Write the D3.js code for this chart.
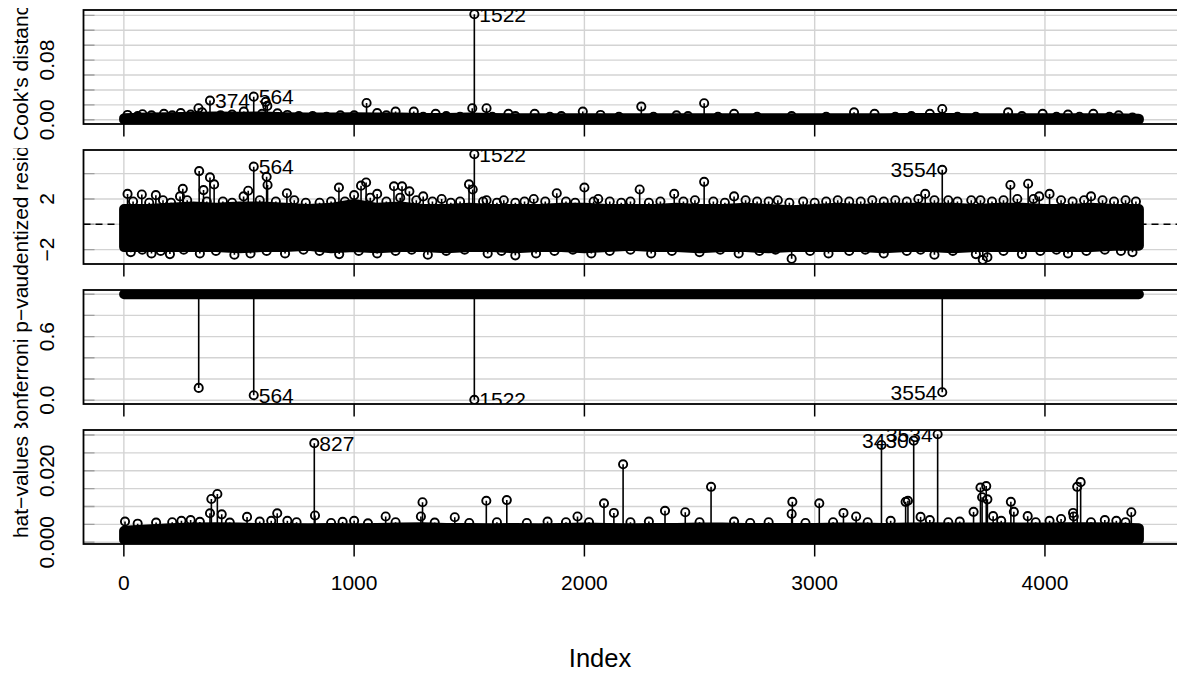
<!DOCTYPE html>
<html lang="en">
<head>
<meta charset="UTF-8">
<title>Influence Index Plot</title>
<script src="https://d3js.org/d3.v7.min.js"></script>
<style>
  body { margin: 0; background: #fff; overflow: hidden; }
  text { font-family: 'Liberation Sans', Arial, sans-serif; fill: #000; }
</style>
</head>
<body>
<script>
// observation index bins used for the dense band of points
const bins = [1, 100, 200, 300, 400, 500, 600, 700, 800, 900, 1000, 1100, 1200, 1300, 1400, 1500,
  1600, 1700, 1800, 1900, 2000, 2100, 2200, 2300, 2400, 2500, 2600, 2700, 2800, 2900, 3000,
  3100, 3200, 3300, 3400, 3500, 3600, 3700, 3800, 3900, 4000, 4100, 4200, 4300, 4408];
const xTicks = [0, 1000, 2000, 3000, 4000];

// Cook's distance
const cookMin = 0;
const cookHi = [0.002, 0.003, 0.0035, 0.004, 0.0045, 0.004, 0.0045, 0.0035, 0.003, 0.003, 0.0035, 0.003,
  0.003, 0.0025, 0.0025, 0.003, 0.0025, 0.002, 0.002, 0.002, 0.002, 0.002, 0.002, 0.002, 0.002, 0.002,
  0.002, 0.002, 0.002, 0.002, 0.002, 0.002, 0.002, 0.002, 0.0025, 0.0025, 0.0025, 0.002, 0.002, 0.002,
  0.002, 0.002, 0.002, 0.002, 0.0015];
const cookPts = [[16, 0.0065], [60, 0.005], [81, 0.0074], [120, 0.006], [174, 0.008], [210, 0.006],
  [247, 0.009], [290, 0.007], [324, 0.0155], [340, 0.01], [374, 0.0257], [420, 0.006], [470, 0.007],
  [521, 0.011], [564, 0.031], [600, 0.008], [616, 0.024], [623, 0.0186], [667, 0.0087], [710, 0.0065],
  [760, 0.005], [820, 0.005], [880, 0.004], [940, 0.006], [1000, 0.006], [1054, 0.0225], [1100, 0.009],
  [1140, 0.006], [1180, 0.011], [1259, 0.011], [1300, 0.004], [1354, 0.008], [1400, 0.005], [1460, 0.004],
  [1513, 0.0155], [1522, 0.1415], [1575, 0.0155], [1600, 0.004], [1670, 0.008], [1700, 0.005],
  [1784, 0.008], [1850, 0.004], [1900, 0.005], [1993, 0.011], [2070, 0.0065], [2150, 0.004],
  [2247, 0.0177], [2300, 0.004], [2400, 0.006], [2450, 0.005], [2520, 0.0222], [2580, 0.004],
  [2650, 0.008], [2750, 0.004], [2900, 0.005], [3050, 0.004], [3171, 0.01], [3260, 0.008],
  [3350, 0.004], [3420, 0.005], [3500, 0.008], [3554, 0.0145], [3620, 0.004], [3700, 0.004],
  [3840, 0.01], [3900, 0.005], [3990, 0.008], [4050, 0.004], [4100, 0.007], [4150, 0.004],
  [4210, 0.008], [4280, 0.004], [4320, 0.006], [4380, 0.003]];
const cookIds = [374, 564, 1522];

// Studentized residuals
const residHi = [1.2, 1.2, 1.3, 1.4, 1.3, 1.4, 1.4, 1.3, 1.2, 1.3, 1.6, 1.3, 1.4, 1.2, 1.2, 1.3, 1.2, 1.2,
  1.2, 1.3, 1.3, 1.2, 1.2, 1.2, 1.3, 1.2, 1.2, 1.3, 1.2, 1.1, 1.2, 1.3, 1.2, 1.3, 1.3, 1.3, 1.3, 1.2,
  1.3, 1.3, 1.2, 1.2, 1.3, 1.2, 1.2];
const residLo = [-1.8, -1.8, -1.8, -1.8, -1.8, -1.9, -1.8, -1.8, -1.7, -1.9, -1.8, -1.9, -1.8, -1.8, -1.9,
  -1.8, -1.8, -1.9, -1.8, -1.8, -1.9, -1.8, -1.7, -1.8, -1.8, -1.9, -1.8, -1.8, -1.9, -1.8, -1.8, -1.8,
  -1.8, -1.9, -1.8, -1.8, -1.9, -1.8, -1.8, -1.8, -1.8, -1.8, -1.8, -1.7, -1.7];
const residPts = [[16, 2.4], [40, 1.8], [78, 2.35], [110, 1.7], [139, 2.3], [170, 1.9], [205, 1.7],
  [244, 2.2], [256, 2.8], [275, 1.9], [327, 4.2], [346, 2.7], [360, 1.8], [374, 3.7], [392, 3.15],
  [430, 1.8], [470, 1.7], [520, 2.2], [540, 2.65], [564, 4.55], [590, 1.9], [620, 3.75], [624, 3.1],
  [660, 1.8], [708, 2.45], [740, 1.9], [790, 1.7], [850, 1.7], [900, 1.8], [934, 2.9], [960, 1.8],
  [1000, 2.3], [1030, 3.05], [1052, 3.3], [1070, 2.1], [1100, 2.4], [1140, 1.8], [1173, 3.0],
  [1200, 2.1], [1208, 3.0], [1240, 2.6], [1270, 1.9], [1300, 2.2], [1340, 1.8], [1380, 2.0],
  [1420, 1.7], [1460, 1.8], [1499, 3.15], [1515, 2.75], [1522, 5.53], [1560, 1.8], [1575, 1.9],
  [1620, 1.7], [1650, 1.9], [1700, 1.7], [1740, 1.8], [1780, 2.0], [1830, 1.8], [1880, 2.45],
  [1920, 1.8], [1960, 1.7], [2000, 2.9], [2040, 1.8], [2060, 2.0], [2110, 1.8], [2160, 1.7],
  [2200, 1.8], [2240, 2.75], [2280, 1.7], [2330, 1.8], [2390, 2.4], [2430, 1.8], [2480, 1.9],
  [2520, 3.35], [2560, 1.8], [2610, 1.7], [2650, 2.2], [2700, 1.9], [2750, 1.8], [2800, 1.8],
  [2840, 1.9], [2890, 1.7], [2950, 1.8], [3000, 1.7], [3050, 1.8], [3100, 1.9], [3150, 1.8],
  [3200, 1.8], [3250, 1.9], [3300, 1.8], [3350, 1.9], [3400, 1.8], [3450, 2.0], [3480, 2.4],
  [3520, 1.9], [3554, 4.3], [3580, 1.9], [3620, 1.8], [3680, 1.9], [3720, 1.9], [3770, 1.8],
  [3820, 1.9], [3850, 3.1], [3880, 2.0], [3927, 3.2], [3950, 2.0], [3975, 2.2], [4020, 2.4],
  [4070, 1.9], [4120, 1.8], [4170, 1.9], [4200, 2.2], [4250, 1.9], [4300, 1.8], [4350, 1.9],
  [4395, 1.8],
  [30, -2.2], [80, -2.0], [120, -2.3], [160, -2.1], [200, -2.35], [260, -2.0], [330, -2.3],
  [400, -2.1], [480, -2.4], [550, -2.3], [620, -2.1], [700, -2.3], [780, -2.0], [850, -2.1],
  [935, -2.35], [1020, -2.1], [1100, -2.3], [1180, -2.1], [1250, -2.0], [1320, -2.4], [1400, -2.1],
  [1480, -2.0], [1580, -2.3], [1640, -2.1], [1700, -2.45], [1790, -2.3], [1870, -2.1], [1950, -2.0],
  [2030, -2.3], [2110, -2.1], [2200, -2.0], [2290, -2.3], [2380, -2.1], [2500, -2.2], [2590, -2.0],
  [2670, -2.3], [2760, -2.1], [2830, -2.0], [2900, -2.72], [2980, -2.1], [3060, -2.3], [3150, -2.1],
  [3220, -2.0], [3300, -2.3], [3400, -2.1], [3460, -2.0], [3520, -2.4], [3600, -2.1], [3700, -2.35],
  [3730, -2.8], [3750, -2.6], [3820, -2.1], [3900, -2.35], [3980, -2.1], [4050, -2.0], [4100, -2.3],
  [4180, -2.1], [4260, -2.0], [4330, -2.1], [4380, -2.2]];
const residIds = [564, 1522, 3554];

// Bonferroni p-values (all others are 1)
const bonfDefault = 1;
const bonfPts = [[325, 0.116], [564, 0.047], [1522, 0.004], [3554, 0.075]];
const bonfIds = [564, 1522, 3554];

// hat-values
const hatMin = 0.0007;
const hatHi = [0.0032, 0.0036, 0.0039, 0.0041, 0.0042, 0.0041, 0.0040, 0.0040, 0.0039, 0.0040, 0.0039,
  0.0040, 0.0041, 0.0042, 0.0040, 0.0040, 0.0039, 0.0040, 0.0039, 0.0040, 0.0041, 0.0040, 0.0039, 0.0040,
  0.0040, 0.0041, 0.0041, 0.0040, 0.0040, 0.0040, 0.0040, 0.0041, 0.0041, 0.0040, 0.0041, 0.0042, 0.0041,
  0.0041, 0.0042, 0.0041, 0.0041, 0.0042, 0.0042, 0.0041, 0.0039];
const hatPts = [[5, 0.0058], [60, 0.0052], [140, 0.0055], [210, 0.0056], [250, 0.006], [290, 0.0062],
  [330, 0.0057], [374, 0.0081], [380, 0.0121], [406, 0.0135], [425, 0.0078], [460, 0.0055], [535, 0.0071],
  [590, 0.0058], [640, 0.006], [666, 0.0081], [710, 0.006], [750, 0.0056], [827, 0.0277], [830, 0.0075],
  [900, 0.0054], [950, 0.0057], [1000, 0.006], [1060, 0.0053], [1137, 0.0072], [1180, 0.0056],
  [1290, 0.0072], [1297, 0.0112], [1350, 0.0055], [1437, 0.007], [1500, 0.0054], [1574, 0.0116],
  [1620, 0.0056], [1663, 0.0118], [1750, 0.0054], [1840, 0.0058], [1920, 0.0056], [1970, 0.0072],
  [2020, 0.0056], [2085, 0.0109], [2128, 0.0082], [2168, 0.0218], [2200, 0.0056], [2280, 0.0058],
  [2350, 0.0088], [2438, 0.0084], [2500, 0.0056], [2550, 0.0155], [2650, 0.0058], [2720, 0.0054],
  [2800, 0.0056], [2900, 0.0079], [2903, 0.0113], [2960, 0.0054], [3020, 0.0109], [3080, 0.0056],
  [3125, 0.0082], [3180, 0.0072], [3230, 0.0056], [3290, 0.0272], [3330, 0.006], [3395, 0.0113],
  [3405, 0.0116], [3430, 0.0284], [3460, 0.0071], [3500, 0.0062], [3534, 0.0302], [3580, 0.0056],
  [3630, 0.0058], [3690, 0.0085], [3720, 0.0153], [3727, 0.0126], [3745, 0.0157], [3750, 0.012],
  [3775, 0.0073], [3810, 0.006], [3852, 0.0113], [3865, 0.0085], [3925, 0.0073], [3960, 0.0056],
  [4020, 0.006], [4070, 0.0065], [4122, 0.0082], [4125, 0.0072], [4140, 0.0155], [4155, 0.0168],
  [4200, 0.0056], [4260, 0.0062], [4310, 0.006], [4350, 0.0056], [4375, 0.0084]];
const hatIds = [827, 3430, 3534];

const W = 1177, H = 675;
const plotLeft = 83.5, plotRight = 1179.5, panelH = 114;
const panelTops = [10, 150, 290, 430];
// each panel's figure region, which clips its y title
const figBands = [[8, 148], [148, 288], [288, 428], [428, 568]];
const fs = 21;

const svg = d3.select("body").append("svg").attr("width", W).attr("height", H);

function pad4([a, b]) { const d = (b - a) * 0.04; return [a - d, b + d]; }

const x = d3.scaleLinear().domain(pad4(d3.extent(bins))).range([plotLeft, plotRight]);
const xMid = x.invert(600);

const panels = [
  { title: "Cook's distance", hi: cookHi, lo: bins.map(() => cookMin), pts: cookPts, ids: cookIds,
    ticks: [0, 0.02, 0.04, 0.06, 0.08, 0.10, 0.12, 0.14], labelled: [0, 0.08], fmt: d3.format(".2f"), base: 0 },
  { title: "Studentized residuals", hi: residHi, lo: residLo, pts: residPts, ids: residIds,
    ticks: [-2, 0, 2, 4], labelled: [-2, 2], fmt: d3.format("d"), base: 0, dashed: true },
  { title: "Bonferroni p\u2212value", hi: bins.map(() => bonfDefault), lo: bins.map(() => bonfDefault),
    pts: bonfPts, ids: bonfIds, ticks: [0, 0.2, 0.4, 0.6, 0.8, 1.0], labelled: [0, 0.6],
    fmt: d3.format(".1f"), base: 1 },
  { title: "hat\u2212values", hi: hatHi, lo: bins.map(() => hatMin), pts: hatPts, ids: hatIds,
    ticks: [0, 0.005, 0.01, 0.015, 0.02, 0.025, 0.03], labelled: [0, 0.02], fmt: d3.format(".3f"), base: 0 }
];

panels.forEach((p, i) => {
  const top = panelTops[i], bottom = top + panelH;
  const all = p.hi.concat(p.lo, p.pts.map(d => d[1]));
  const y = d3.scaleLinear().domain(pad4(d3.extent(all))).range([bottom, top]);

  svg.append("clipPath").attr("id", "clip" + i)
    .append("rect").attr("x", plotLeft).attr("y", top)
    .attr("width", plotRight - plotLeft).attr("height", panelH);
  svg.append("clipPath").attr("id", "fig" + i)
    .append("rect").attr("x", 0).attr("y", figBands[i][0])
    .attr("width", 80).attr("height", figBands[i][1] - figBands[i][0]);

  const g = svg.append("g").attr("clip-path", `url(#clip${i})`);

  // grid
  g.selectAll(".vg").data(xTicks).join("line")
    .attr("x1", d => x(d)).attr("x2", d => x(d)).attr("y1", top).attr("y2", bottom)
    .attr("stroke", "#d3d3d3").attr("stroke-width", 1.4);
  g.selectAll(".hg").data(p.ticks).join("line")
    .attr("x1", plotLeft).attr("x2", plotRight).attr("y1", d => y(d)).attr("y2", d => y(d))
    .attr("stroke", "#d3d3d3").attr("stroke-width", 1.4);
  g.selectAll(".yt").data(p.ticks).join("line")
    .attr("x1", plotLeft).attr("x2", plotLeft + 11).attr("y1", d => y(d)).attr("y2", d => y(d))
    .attr("stroke", "#a0a0a0").attr("stroke-width", 1.4);

  if (p.dashed) {
    g.append("line").attr("x1", plotLeft).attr("x2", plotRight)
      .attr("y1", y(0)).attr("y2", y(0))
      .attr("stroke", "#000").attr("stroke-width", 1.4).attr("stroke-dasharray", "7,5");
  }

  // dense band of overlapping points
  const band = d3.area()
    .x((d, j) => x(bins[j]))
    .y0((d, j) => y(p.lo[j]))
    .y1((d, j) => y(p.hi[j]));
  g.append("path").datum(bins).attr("d", band)
    .attr("fill", "#000").attr("stroke", "#000")
    .attr("stroke-width", 10).attr("stroke-linejoin", "round").attr("stroke-linecap", "round");

  // stems and points
  g.selectAll(".stem").data(p.pts).join("line")
    .attr("x1", d => x(d[0])).attr("x2", d => x(d[0]))
    .attr("y1", y(p.base)).attr("y2", d => y(d[1]))
    .attr("stroke", "#000").attr("stroke-width", 1.6);
  g.selectAll(".pt").data(p.pts).join("circle")
    .attr("cx", d => x(d[0])).attr("cy", d => y(d[1])).attr("r", 4.1)
    .attr("fill", "none").attr("stroke", "#000").attr("stroke-width", 1.9);

  // point labels
  g.selectAll(".lab").data(p.pts.filter(d => p.ids.includes(d[0]))).join("text")
    .attr("x", d => x(d[0]) + (d[0] < xMid ? 5 : -5))
    .attr("y", d => y(d[1]))
    .attr("dy", "0.36em")
    .attr("text-anchor", d => d[0] < xMid ? "start" : "end")
    .style("font-size", fs + "px")
    .text(d => d[0]);

  // box and x tick marks
  svg.append("rect").attr("x", plotLeft).attr("y", top)
    .attr("width", plotRight - plotLeft).attr("height", panelH)
    .attr("fill", "none").attr("stroke", "#000").attr("stroke-width", 1.8);
  svg.selectAll(".xt" + i).data(xTicks).join("line")
    .attr("x1", d => x(d)).attr("x2", d => x(d)).attr("y1", bottom).attr("y2", bottom + 12.5)
    .attr("stroke", "#000").attr("stroke-width", 1.5);

  // y tick labels
  svg.selectAll(".yl" + i).data(p.labelled).join("text")
    .attr("transform", d => `translate(53.5,${y(d)}) rotate(-90)`)
    .attr("text-anchor", "middle")
    .style("font-size", fs + "px")
    .text(d => p.fmt(d));

  // y title, clipped to the panel's figure region
  svg.append("g").attr("clip-path", `url(#fig${i})`)
    .append("text")
    .attr("transform", `translate(28,${top + panelH / 2}) rotate(-90)`)
    .attr("text-anchor", "middle")
    .style("font-size", fs + "px")
    .text(p.title);
});

// x axis labels on the bottom panel
svg.selectAll(".xl").data(xTicks).join("text")
  .attr("x", d => x(d)).attr("y", 590)
  .attr("text-anchor", "middle")
  .style("font-size", fs + "px")
  .text(d => d);

svg.append("text").attr("x", 600).attr("y", 667)
  .attr("text-anchor", "middle")
  .style("font-size", "25.5px")
  .text("Index");
</script>
</body>
</html>
